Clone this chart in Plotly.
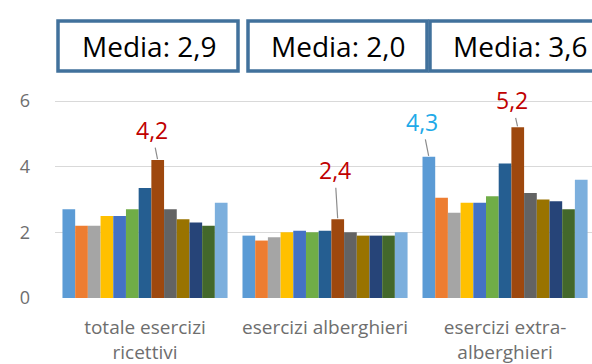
import plotly.graph_objects as go

categories = ["totale esercizi<br>ricettivi", "esercizi alberghieri", "esercizi extra-<br>alberghieri"]
series_colors = ["#5B9BD5", "#ED7D31", "#A5A5A5", "#FFC000", "#4472C4", "#70AD47",
                 "#255E91", "#9E480E", "#636363", "#997300", "#264478", "#43682B", "#7CAFDD"]
# one list per bar series (13 series), values for the 3 categories
s1 = [2.7, 1.9, 4.3]
s2 = [2.2, 1.75, 3.05]
s3 = [2.2, 1.85, 2.6]
s4 = [2.5, 2.0, 2.9]
s5 = [2.5, 2.05, 2.9]
s6 = [2.7, 2.0, 3.1]
s7 = [3.35, 2.05, 4.1]
s8 = [4.2, 2.4, 5.2]
s9 = [2.7, 2.0, 3.2]
s10 = [2.4, 1.9, 3.0]
s11 = [2.3, 1.9, 2.95]
s12 = [2.2, 1.9, 2.7]
media = [2.9, 2.0, 3.6]
series = [s1, s2, s3, s4, s5, s6, s7, s8, s9, s10, s11, s12, media]
media_labels = ["Media: 2,9", "Media: 2,0", "Media: 3,6"]
y_ticks = [0, 2, 4, 6]

xs = list(range(len(categories)))
fig = go.Figure()
for vals, col in zip(series, series_colors):
    fig.add_trace(go.Bar(x=xs, y=vals, marker=dict(color=col, line=dict(width=0)),
                         showlegend=False, hoverinfo="y"))

nb = len(series)
bargap = 0.083
bw = (1 - bargap) / nb
def bar_x(cat, idx):
    return cat + (idx - (nb - 1) / 2) * bw

def fmt(v):
    return f"{v:.1f}".replace(".", ",")

ann = []
# highlighted values
hl = [(0, 7, "#C00000", -6, -30), (1, 7, "#C00000", -3, -49), (2, 7, "#C00000", -6, -27),
      (2, 0, "#21A9E8", -7, -35)]
for cat, idx, col, axp, ayp in hl:
    ann.append(dict(x=bar_x(cat, idx), y=series[idx][cat], xref="x", yref="y",
                    text=fmt(series[idx][cat]), showarrow=True, arrowhead=0, arrowwidth=1.2,
                    arrowcolor="#8C8C8C", ax=axp, ay=ayp, standoff=1,
                    font=dict(family="Open Sans", size=23, color=col)))

L, T, B = 55, 80, 298
W = 592 - L
H = B - T
def px(xp):
    return (xp - L) / W
def py(yp):
    return (B - yp) / H

boxes = [(58, 238), (248, 427), (430, 605)]
shapes = []
for (x0, x1), lab in zip(boxes, media_labels):
    shapes.append(dict(type="rect", xref="paper", yref="paper", x0=px(x0), x1=px(x1),
                       y0=py(71), y1=py(21), line=dict(color="#41719C", width=3.5),
                       fillcolor="white"))
text_cx = [149, 338, 520]
for cx, lab in zip(text_cx, media_labels):
    ann.append(dict(x=px(cx), y=py(46), xref="paper", yref="paper", text=lab, showarrow=False,
                    font=dict(family="Open Sans", size=28, color="black"),
                    xanchor="center", yanchor="middle"))

fig.update_layout(
    width=592, height=364,
    margin=dict(l=L, r=0, t=T, b=364 - B),
    paper_bgcolor="white", plot_bgcolor="white",
    barmode="group", bargap=bargap, bargroupgap=0,
    xaxis=dict(tickmode="array", tickvals=xs, ticktext=categories, range=[-0.5, 2.483],
               showgrid=False, zeroline=False, showline=False, ticks="",
               tickfont=dict(family="Open Sans", size=19, color="#6E6E6E"),
               ticklabelstandoff=16),
    yaxis=dict(range=[0, H / 32.83], tickvals=y_ticks, showgrid=True, gridcolor="#D9D9D9",
               gridwidth=1.3, zeroline=False, showline=False, ticks="",
               tickfont=dict(family="Open Sans", size=18, color="#6E6E6E"),
               ticklabelstandoff=24),
    annotations=ann, shapes=shapes,
)
fig.write_html("out.html", config={"displayModeBar": False},
               post_script="document.body.style.margin='0';document.body.style.overflow='hidden';")
